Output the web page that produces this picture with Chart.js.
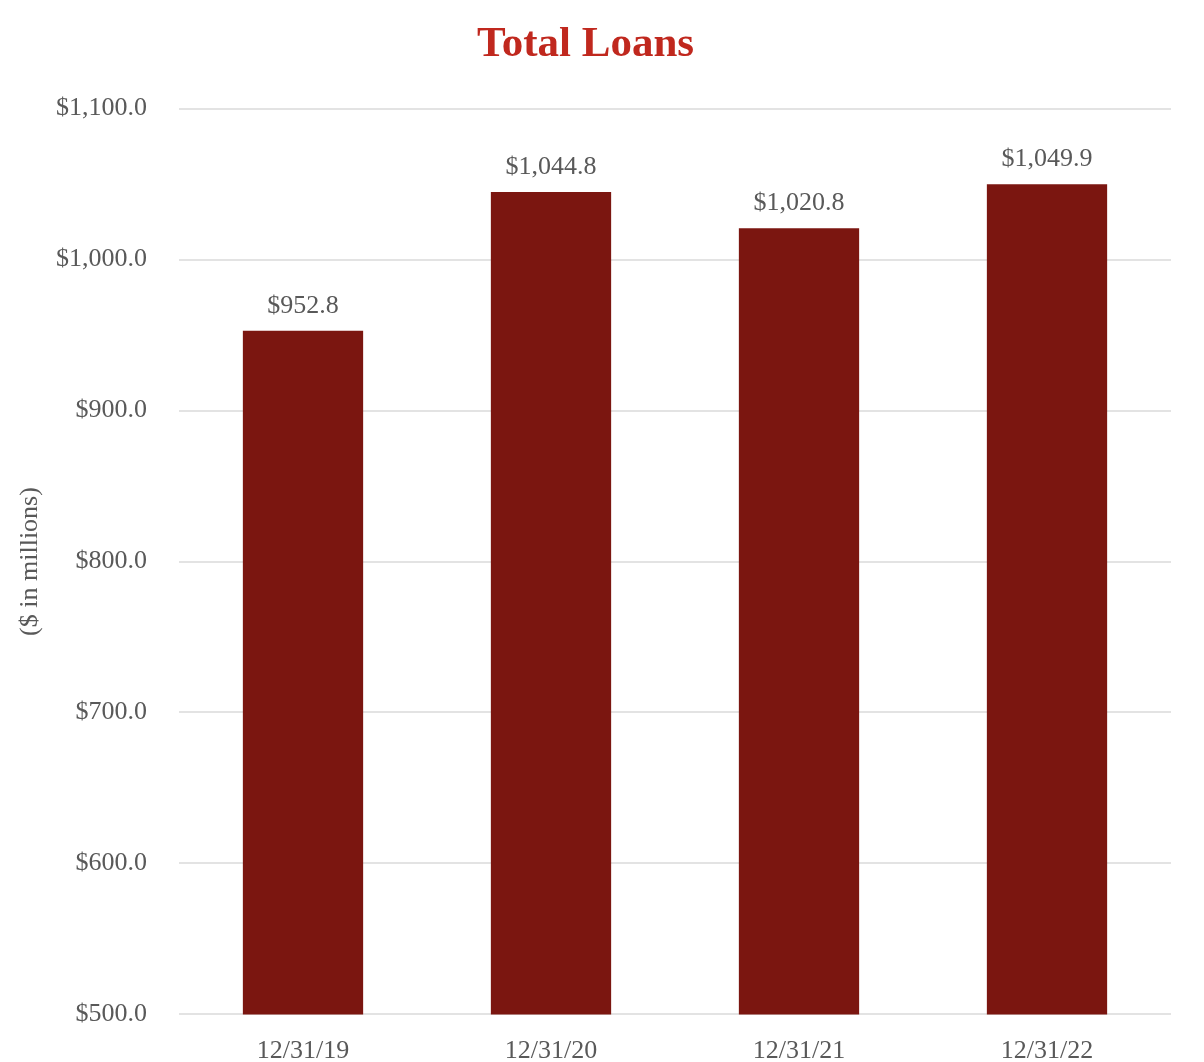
<!DOCTYPE html>
<html>
<head>
<meta charset="utf-8">
<script src="https://cdn.jsdelivr.net/npm/chart.js@4"></script>
<style>
    html, body { margin: 0; padding: 0; background: #fff; overflow: hidden; }
    canvas { display: block; }
</style>
</head>
<body>
<canvas id="loansChart" width="1204" height="1062"></canvas>
<script>
// chart data
const categories = ["12/31/19", "12/31/20", "12/31/21", "12/31/22"];
const loanValues = [952.8, 1044.8, 1020.8, 1049.9];
const yTicks = [500, 600, 700, 800, 900, 1000, 1100];

function money(v) {
    return "$" + v.toLocaleString("en-US", { minimumFractionDigits: 1, maximumFractionDigits: 1 });
}

// draws the value above each bar
const barLabels = {
    id: "barLabels",
    afterDatasetsDraw(chart) {
        const ctx = chart.ctx;
        ctx.save();
        ctx.font = "26px 'Liberation Serif'";
        ctx.fillStyle = "#595959";
        ctx.textAlign = "center";
        ctx.textBaseline = "middle";
        chart.getDatasetMeta(0).data.forEach((bar, i) => {
            ctx.fillText(money(loanValues[i]), bar.x, bar.y - 25);
        });
        ctx.restore();
    }
};

document.addEventListener("DOMContentLoaded", function () {
    new Chart(document.getElementById("loansChart").getContext("2d"), {
        type: "bar",
        data: {
            labels: categories,
            datasets: [{
                label: "Total Loans",
                data: loanValues,
                backgroundColor: "#7B1610",
                barPercentage: 0.97,
                categoryPercentage: 0.5
            }]
        },
        options: {
            responsive: false,
            animation: false,
            layout: { padding: { top: 9, right: 33, bottom: 0, left: 0 } },
            plugins: {
                legend: { display: false },
                tooltip: { enabled: false },
                title: {
                    display: true,
                    text: "Total Loans",
                    color: "#C0281E",
                    font: { family: "'Liberation Serif'", size: 43, weight: "bold" },
                    padding: { top: 10, bottom: 38 }
                }
            },
            scales: {
                x: {
                    afterFit: axis => { axis.height = 44; },
                    grid: { display: false },
                    border: { display: false },
                    ticks: {
                        color: "#595959",
                        font: { family: "'Liberation Serif'", size: 26 },
                        padding: 13
                    }
                },
                y: {
                    min: 500,
                    max: 1100,
                    afterBuildTicks: axis => { axis.ticks = yTicks.map(v => ({ value: v })); },
                    afterFit: axis => { axis.width = 179; },
                    grid: { color: "#E3E3E3", lineWidth: 2, drawTicks: false },
                    border: { display: false },
                    ticks: {
                        color: "#595959",
                        font: { family: "'Liberation Serif'", size: 26 },
                        padding: 32,
                        callback: v => money(v)
                    },
                    title: {
                        display: true,
                        text: "($ in millions)",
                        color: "#595959",
                        font: { family: "'Liberation Serif'", size: 26 },
                        padding: { top: 15, bottom: 0 }
                    }
                }
            }
        },
        plugins: [barLabels]
    });
});
</script>
</body>
</html>
